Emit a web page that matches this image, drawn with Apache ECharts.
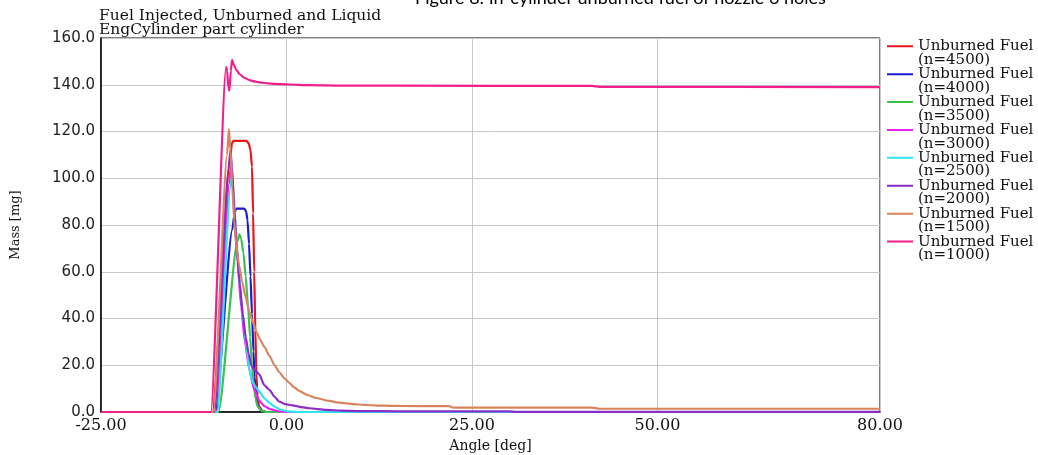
<!DOCTYPE html>
<html>
<head>
<meta charset="utf-8">
<script src="https://cdn.jsdelivr.net/npm/echarts@6/dist/echarts.min.js"></script>
<style>
  html, body { margin: 0; padding: 0; background: #fff; }
  #chart { width: 1038px; height: 455px; }
</style>
</head>
<body>
<div id="chart"></div>
<script>
// tick labels
var xTicks = [-25, 0, 25, 50, 80];

// series names / legend order
var speeds = [4500, 4000, 3500, 3000, 2500, 2000, 1500, 1000];

// angle [deg] and unburned mass [mg]
var angle4500 = [-25, -9.98, -7.6, -7.35, -7.15, -5.4, -5.1, -4.85, -4.65, -4.5, -4.35, -4.2, -4.05, -3.9, -3.7, -3.3, -2.8, 80];
var mass4500  = [0, 0, 108, 115, 116, 116, 115, 112, 105, 85, 60, 35, 16, 7, 2.5, 0.6, 0, 0];

var angle4000 = [-25, -9.58, -7.3, -7.0, -6.8, -5.7, -5.45, -5.25, -5.05, -4.85, -4.65, -4.45, -4.3, -4.1, -3.85, -3.4, -2.8, 80];
var mass4000  = [0, 0, 78, 85, 87, 87, 86, 82, 72, 58, 42, 26, 15, 7, 2.5, 0.6, 0, 0];

var angle3500 = [-25, -9.17, -6.6, -6.35, -6.1, -5.8, -5.5, -5.2, -4.9, -4.65, -4.4, -4.15, -3.9, -3.4, -2.8, 80];
var mass3500  = [0, 0, 73, 76, 74, 68, 58, 46, 32, 20, 11, 5.5, 2.5, 0.6, 0, 0];

var angle3000 = [-25, -9.44, -7.7, -7.49, -7.3, -7.0, -6.6, -6.1, -5.6, -5.0, -4.4, -3.7, -3.0, -2.2, -1.2, 0, 80];
var mass3000  = [0, 0, 98, 106, 100, 84, 64, 45, 30, 18, 10, 5, 2.5, 1.2, 0.4, 0, 0];

var angle2500 = [-25, -9.31, -7.55, -7.35, -7.15, -6.85, -6.5, -6.1, -5.67, -5.3, -5.0, -4.6, -4.1, -3.6, -3.0, -2.3, -1.6, -0.8, 0.2, 1.5, 80];
var mass2500  = [0, 0, 96, 101, 95, 80, 63, 48, 36, 25, 18, 13, 10.5, 8.5, 6, 3.8, 2.3, 1.0, 0.3, 0, 0];

var angle2000 = [-25, -9.71, -7.8, -7.56, -7.35, -7.05, -6.7, -6.3, -5.9, -5.5, -5.1, -4.77, -4.3, -3.65, -3.0, -2.3, -1.6, -0.96, -0.2, 0.84, 2.0, 3.08, 5.33, 7.5, 9.82, 15, 30, 31, 80];
var mass2000  = [0, 0, 104, 112, 105, 88, 70, 55, 42, 32, 25, 20, 18, 16, 11.5, 9.5, 6.5, 4.4, 3.4, 2.8, 2.1, 1.6, 0.9, 0.6, 0.4, 0.3, 0.25, 0.05, 0.05];

var angle1500 = [-25, -9.85, -8.0, -7.76, -7.55, -7.3, -7.05, -6.8, -6.4, -6.0, -5.5, -5.0, -4.5, -4.0, -3.65, -3.0, -2.3, -1.6, -0.96, -0.3, 0.39, 1.0, 1.74, 2.8, 4.0, 5.5, 7.13, 9, 10.7, 13, 15.2, 21.9, 22.4, 41.2, 42.2, 80];
var mass1500  = [0, 0, 110, 121, 112, 96, 82, 72, 63, 56, 49, 43, 38, 34, 31.5, 28, 24, 20, 17, 14.5, 12.5, 10.6, 9, 7.3, 6, 4.9, 4, 3.4, 3, 2.7, 2.6, 2.5, 1.9, 1.9, 1.4, 1.4];

var angle1000 = [-25, -10.18, -8.14, -8.0, -7.85, -7.69, -7.5, -7.33, -7.1, -6.8, -6.3, -5.7, -5.0, -4.2, -3.4, -2.5, -1.6, 0.4, 3, 7, 15, 41.2, 42.2, 80];
var mass1000  = [0, 0, 147.7, 146, 139, 137.5, 146, 150.6, 148.5, 146.5, 144.5, 143, 142, 141.3, 140.9, 140.6, 140.4, 140.1, 139.8, 139.6, 139.6, 139.5, 139.1, 139.0];

var angles = [angle4500, angle4000, angle3500, angle3000, angle2500, angle2000, angle1500, angle1000];
var masses = [mass4500, mass4000, mass3500, mass3000, mass2500, mass2000, mass1500, mass1000];
var colors = ['#e6161c', '#1b1bd6', '#3dbf4c', '#f220ee', '#30e4ee', '#8a2cc6', '#d8845f', '#f01f8c'];

var serif = '"DejaVu Serif", "Liberation Serif", serif';

// legend line sitting on the first text line (box is 26x28, line at y 6..8)
var legendIcon = 'path://M0,0H0.01V0.01H0Z M0,6H26V8H0Z M0,27.99H0.01V28H0Z';

function zip(a, b) {
  return a.map(function (v, i) { return [v, b[i]]; });
}

var chart = echarts.init(document.getElementById('chart'));

var series = speeds.map(function (n, i) {
  return {
    name: 'Unburned Fuel (n=' + n + ')',
    type: 'line',
    data: zip(angles[i], masses[i]),
    symbol: 'none',
    smooth: 0.2,
    smoothMonotone: 'x',
    lineStyle: { width: 2.2, color: colors[i] },
    itemStyle: { color: colors[i] }
  };
});

chart.setOption({
  animation: false,
  title: {
    text: 'Fuel Injected, Unburned and Liquid\nEngCylinder part cylinder',
    left: 99,
    top: 9,
    padding: 0,
    textStyle: { fontFamily: serif, fontSize: 15.5, fontWeight: 'normal', lineHeight: 14, color: '#111' }
  },
  graphic: [{
    type: 'text',
    left: 415,
    top: -11,
    style: {
      text: 'Figure 8: In-cylinder unburned fuel of nozzle 6 holes',
      font: '18px Lato, "Open Sans", sans-serif',
      fill: '#000'
    }
  }],
  legend: {
    orient: 'vertical',
    left: 887,
    top: 39,
    padding: 0,
    itemGap: -0.6,
    itemWidth: 26,
    itemHeight: 28,
    icon: legendIcon,
    textStyle: { fontFamily: serif, fontSize: 15, lineHeight: 13.5, color: '#111' },
    formatter: function (name) { return name.replace(' (', '\n('); },
    data: series.map(function (s) { return s.name; })
  },
  grid: {
    left: 101,
    right: 158,
    top: 38,
    bottom: 43,
    outerBoundsMode: 'none',
    show: true,
    borderColor: '#000',
    borderWidth: 1
  },
  xAxis: {
    type: 'value',
    min: -25,
    max: 80,
    interval: 25,
    name: 'Angle [deg]',
    nameLocation: 'middle',
    nameGap: 24,
    nameTextStyle: { fontFamily: serif, fontSize: 14, color: '#111' },
    axisLine: { lineStyle: { color: '#000', width: 1.5 } },
    axisTick: { show: false, customValues: xTicks },
    axisLabel: {
      customValues: xTicks,
      margin: 6,
      fontFamily: serif, fontSize: 16, color: '#111',
      formatter: function (v) { return v.toFixed(2); }
    },
    splitLine: { show: true, lineStyle: { color: '#c8c8c8', width: 1 } }
  },
  yAxis: {
    type: 'value',
    min: 0,
    max: 160,
    interval: 20,
    name: 'Mass [mg]',
    nameLocation: 'middle',
    nameGap: 79,
    nameTextStyle: { fontFamily: serif, fontSize: 13, color: '#111' },
    axisLine: { show: true, onZero: false, lineStyle: { color: '#000', width: 1.5 } },
    axisTick: { show: false },
    axisLabel: {
      margin: 6,
      fontFamily: '"DejaVu Sans", Verdana, sans-serif', fontSize: 15, color: '#222',
      formatter: function (v) { return v.toFixed(1); }
    },
    splitLine: { show: true, lineStyle: { color: '#c8c8c8', width: 1 } }
  },
  series: series
});
</script>
</body>
</html>
